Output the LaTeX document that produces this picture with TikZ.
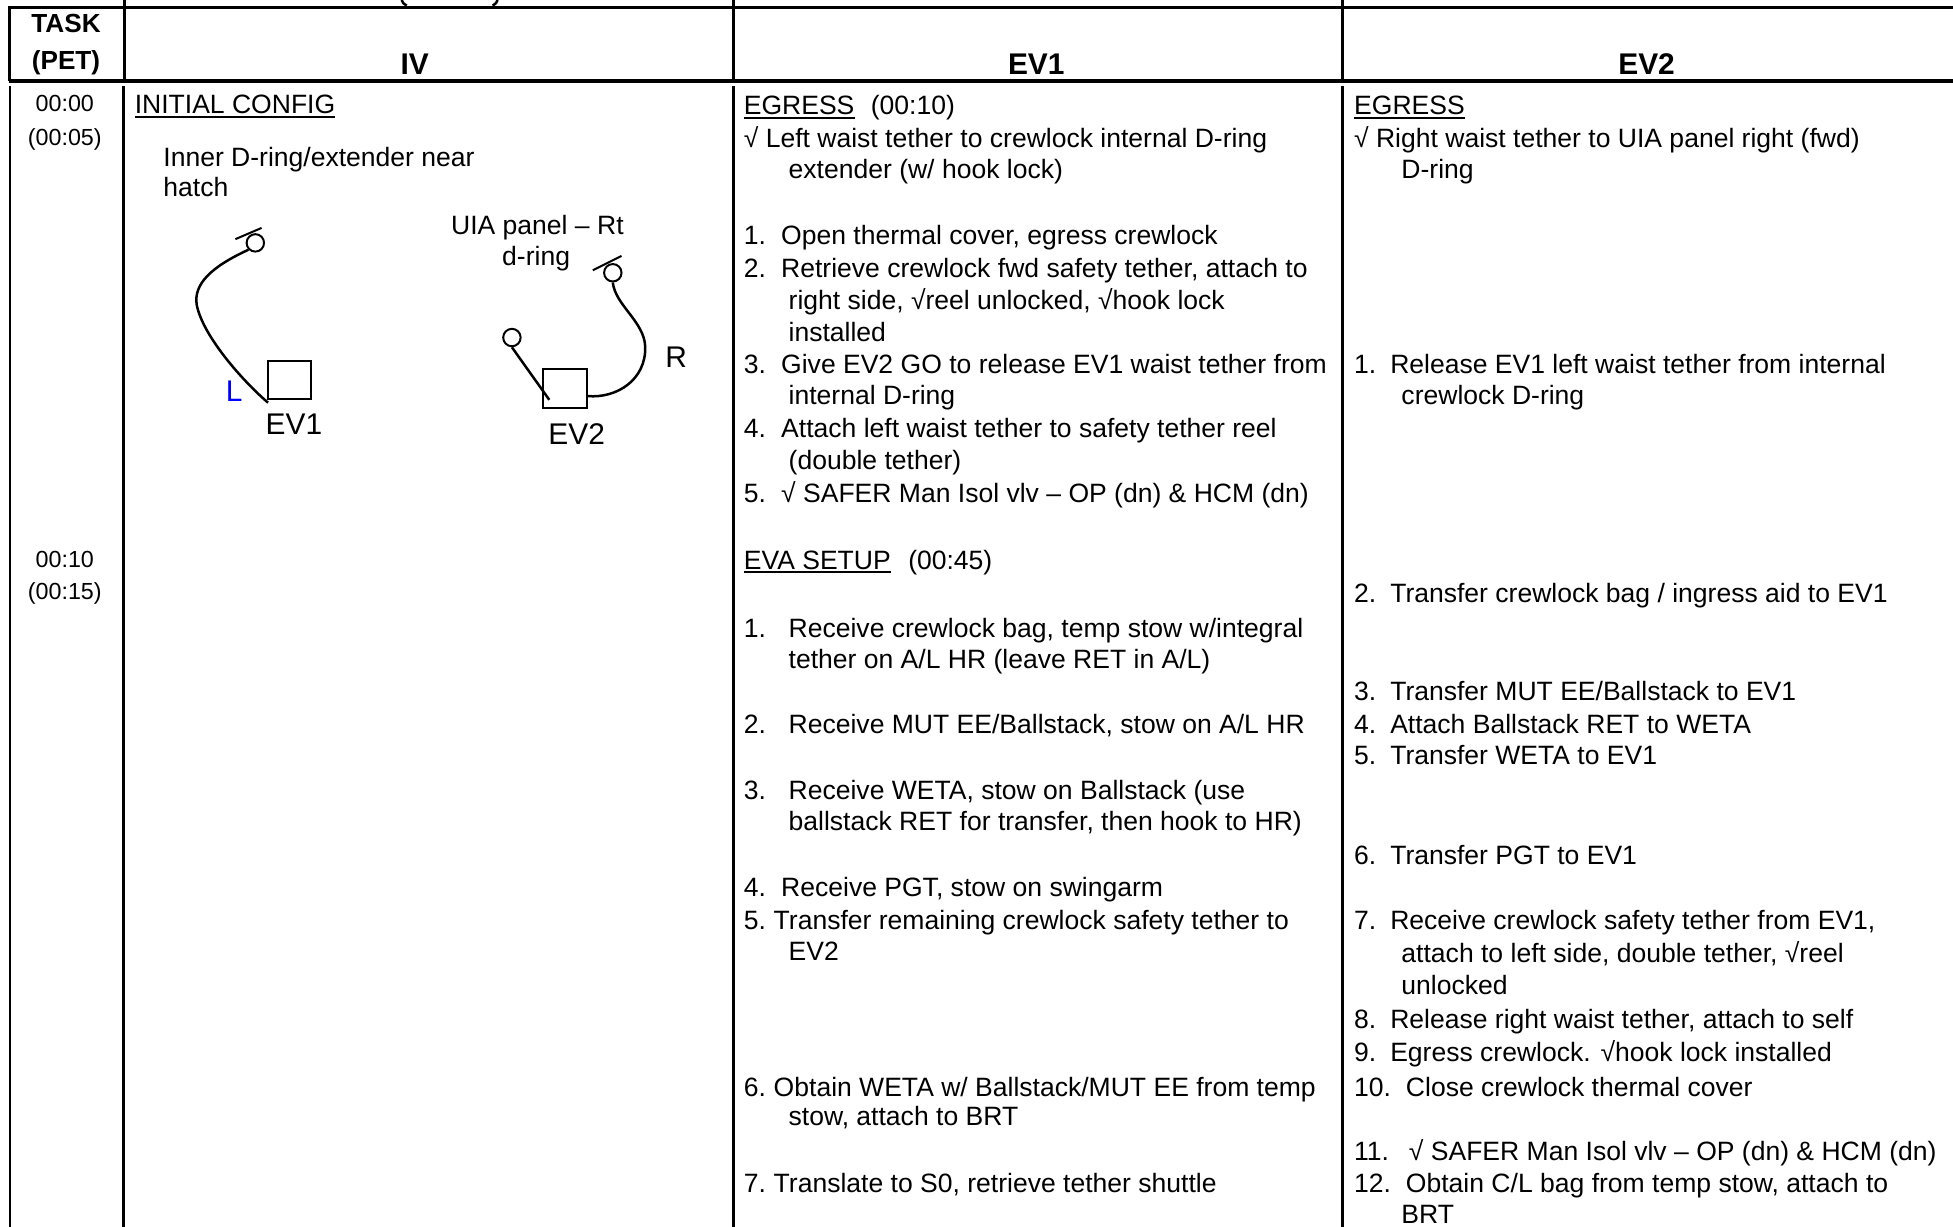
\documentclass[tikz,border=0pt]{standalone}
\usepackage{fontspec}
\setmainfont{Liberation Sans}
\begin{document}
\begin{tikzpicture}[x=1pt,y=-1pt,
  txt/.style={font=\fontsize{21.3}{25}\selectfont, inner sep=0pt, anchor=base west},
  hdr/.style={font=\fontsize{24}{28}\selectfont\bfseries, inner sep=0pt, anchor=base},
  tsk/.style={font=\fontsize{21}{25}\selectfont\bfseries, inner sep=0pt, anchor=base},
  tm/.style={font=\fontsize{18.7}{22}\selectfont, inner sep=0pt, anchor=base},
  lbl/.style={font=\fontsize{24}{28}\selectfont, inner sep=0pt, anchor=base},
  grid/.style={line width=2pt},
  thick line/.style={line width=3pt},
  uline/.style={line width=1.5pt},
  tether/.style={line width=2pt},
  ring/.style={draw, circle, line width=1.6pt, minimum size=14pt, inner sep=0pt},
  crew/.style={draw, rectangle, line width=1.6pt, minimum width=35pt, minimum height=31pt, inner sep=0pt}
]
\useasboundingbox (0,0) rectangle (1568,985);

% ---- table frame ----
\draw[grid] (7,6) -- (1568,6);
\draw[thick line] (7,65) -- (1568,65);
\draw[grid] (7.5,5) -- (7.5,65);
\draw[grid] (100,0) -- (100,65);
\draw[grid] (589,0) -- (589,65);
\draw[grid] (1078,0) -- (1078,65);
\draw[grid] (8,69) -- (8,985);
\draw[grid] (99,69) -- (99,985);
\draw[grid] (589,69) -- (589,985);
\draw[grid] (1078,69) -- (1078,985);
% bottoms of cut-off parentheses above the table
\draw[line width=2pt] (322.5,0) .. controls (323.5,2.5) .. (326.5,4.5);
\draw[line width=2pt] (399.5,0) .. controls (398.5,2.5) .. (395.5,4.5);

% ---- header ----
\node[tsk] (hTask) at (53,26) {TASK};
\node[tsk] (hPet) at (53,55.5) {(PET)};
\node[hdr] (hIV) at (333,59.6) {IV};
\node[hdr] (hEV1) at (832,59.6) {EV1};
\node[hdr] (hEV2) at (1322,59.6) {EV2};

% ---- task column ----
\node[tm] (t1) at (52,89.7) {00:00};
\node[tm] (t2) at (52,116.7) {(00:05)};
\node[tm] (t3) at (52,455.7) {00:10};
\node[tm] (t4) at (52,481.7) {(00:15)};

% ---- IV column ----
\node[txt] (ivA) at (108,91.5) {INITIAL CONFIG};
\draw[uline] ([yshift=-2.5pt]ivA.base west) -- ([yshift=-2.5pt]ivA.base east);
\node[txt] (ivB) at (131,133.5) {Inner D-ring/extender near};
\node[txt] (ivC) at (131,157.5) {hatch};
\node[txt] (ivD) at (362,188) {UIA panel – Rt};
\node[txt] (ivE) at (403,213.5) {d-ring};

% sketch
\node[crew] (box1) at (232.5,305) {};
\node[crew] (box2) at (453.5,312) {};
\node[ring] (r1) at (205,195) {};
\node[ring] (r2l) at (411,271) {};
\node[ring] (r2r) at (492,219) {};
\coordinate (k1a) at (189,192);
\coordinate (k1b) at (210,183);
\coordinate (k2a) at (476,217);
\coordinate (k2b) at (499,205.5);
\draw[line width=1.6pt] (k1a) -- (k1b);
\draw[line width=1.6pt] (k2a) -- (k2b);
\coordinate (c1) at (158,245);
\draw[tether] (r1.south west) .. controls (170,214) and (155,228) .. (c1)
   .. controls (163,270) and (195,306) .. ([xshift=1pt,yshift=-2pt]box1.south west);
\coordinate (e2) at (441,321);
\draw[tether] (r2l.south) -- (e2);
\coordinate (c2) at (518,278);
\draw[tether] (r2r.south) .. controls (494,245) and (517,258) .. (c2)
   .. controls (519,305) and (495,320) .. ([yshift=-6pt]box2.east);
\node[lbl, text=blue] (labL) at (188,322.6) {L};
\node[lbl] (labEV1) at (236,348.6) {EV1};
\node[lbl] (labEV2) at (463,356.6) {EV2};
\node[lbl, anchor=base west] (labR) at (534,295) {R};

% ---- EV1 column ----
\node[txt] (a0) at (597,92) {EGRESS};
\draw[uline] ([yshift=-2.5pt]a0.base west) -- ([yshift=-2.5pt]a0.base east);
\node[txt] (a0t) at (699,92) {(00:10)};
\node[txt] (a1) at (597,118.5) {√ Left waist tether to crewlock internal D-ring};
\node[txt] (a2) at (633,143) {extender (w/ hook lock)};
\node[txt] (an1) at (597,196) {1.};
\node[txt] (a3) at (627,196) {Open thermal cover, egress crewlock};
\node[txt] (an2) at (597,223) {2.};
\node[txt] (a4) at (627,223) {Retrieve crewlock fwd safety tether, attach to};
\node[txt] (a5) at (633,248.5) {right side, √reel unlocked, √hook lock};
\node[txt] (a6) at (633,274) {installed};
\node[txt] (an3) at (597,299.5) {3.};
\node[txt] (a7) at (627,299.5) {Give EV2 GO to release EV1 waist tether from};
\node[txt] (a8) at (633,325) {internal D-ring};
\node[txt] (an4) at (597,351.4) {4.};
\node[txt] (a9) at (627,351.4) {Attach left waist tether to safety tether reel};
\node[txt] (a10) at (633,377) {(double tether)};
\node[txt] (an5) at (597,403.5) {5.};
\node[txt] (a11) at (627,403.5) {√ SAFER Man Isol vlv – OP (dn) \& HCM (dn)};

\node[txt] (b0) at (597,457) {EVA SETUP};
\draw[uline] ([yshift=-2.5pt]b0.base west) -- ([yshift=-2.5pt]b0.base east);
\node[txt] (b0t) at (729,457) {(00:45)};
\node[txt] (bn1) at (597,511.5) {1.};
\node[txt] (b1) at (633,511.5) {Receive crewlock bag, temp stow w/integral};
\node[txt] (b2) at (633,537) {tether on A/L HR (leave RET in A/L)};
\node[txt] (bn2) at (597,588.5) {2.};
\node[txt] (b3) at (633,588.5) {Receive MUT EE/Ballstack, stow on A/L HR};
\node[txt] (bn3) at (597,642) {3.};
\node[txt] (b4) at (633,642) {Receive WETA, stow on Ballstack (use};
\node[txt] (b5) at (633,667) {ballstack RET for transfer, then hook to HR)};
\node[txt] (bn4) at (597,720) {4.};
\node[txt] (b6) at (627,720) {Receive PGT, stow on swingarm};
\node[txt] (bn5) at (597,746.5) {5.};
\node[txt] (b7) at (621,746.5) {Transfer remaining crewlock safety tether to};
\node[txt] (b8) at (633,771.5) {EV2};
\node[txt] (bn6) at (597,880) {6.};
\node[txt] (b9) at (621,880) {Obtain WETA w/ Ballstack/MUT EE from temp};
\node[txt] (b10) at (633,904) {stow, attach to BRT};
\node[txt] (bn7) at (597,957.5) {7.};
\node[txt] (b11) at (621,957.5) {Translate to S0, retrieve tether shuttle};

% ---- EV2 column ----
\node[txt] (c0) at (1087,92) {EGRESS};
\draw[uline] ([yshift=-2.5pt]c0.base west) -- ([yshift=-2.5pt]c0.base east);
\node[txt] (c1t) at (1087,118.5) {√ Right waist tether to UIA panel right (fwd)};
\node[txt] (c2t) at (1125,143) {D-ring};
\node[txt] (cn1) at (1087,299.5) {1.};
\node[txt] (c3) at (1116,299.5) {Release EV1 left waist tether from internal};
\node[txt] (c4) at (1125,325) {crewlock D-ring};
\node[txt] (cn2) at (1087,483.5) {2.};
\node[txt] (c5) at (1116,483.5) {Transfer crewlock bag / ingress aid to EV1};
\node[txt] (cn3) at (1087,562.5) {3.};
\node[txt] (c6) at (1116,562.5) {Transfer MUT EE/Ballstack to EV1};
\node[txt] (cn4) at (1087,588.5) {4.};
\node[txt] (c7) at (1116,588.5) {Attach Ballstack RET to WETA};
\node[txt] (cn5) at (1087,614) {5.};
\node[txt] (c8) at (1116,614) {Transfer WETA to EV1};
\node[txt] (cn6) at (1087,694) {6.};
\node[txt] (c9) at (1116,694) {Transfer PGT to EV1};
\node[txt] (cn7) at (1087,746.5) {7.};
\node[txt] (c10) at (1116,746.5) {Receive crewlock safety tether from EV1,};
\node[txt] (c11) at (1125,773) {attach to left side, double tether, √reel};
\node[txt] (c12) at (1125,798.5) {unlocked};
\node[txt] (cn8) at (1087,825.5) {8.};
\node[txt] (c13) at (1116,825.5) {Release right waist tether, attach to self};
\node[txt] (cn9) at (1087,852.5) {9.};
\node[txt] (c14) at (1116,852.5) {Egress crewlock. √hook lock installed};
\node[txt] (cn10) at (1087,880) {10.};
\node[txt] (c15) at (1128.6,880) {Close crewlock thermal cover};
\node[txt] (cn11) at (1087,932) {11.};
\node[txt] (c16) at (1131,932) {√ SAFER Man Isol vlv – OP (dn) \& HCM (dn)};
\node[txt] (cn12) at (1087,957.5) {12.};
\node[txt] (c17) at (1128.6,957.5) {Obtain C/L bag from temp stow, attach to};
\node[txt] (c18) at (1125,982.5) {BRT};
\end{tikzpicture}
\end{document}
